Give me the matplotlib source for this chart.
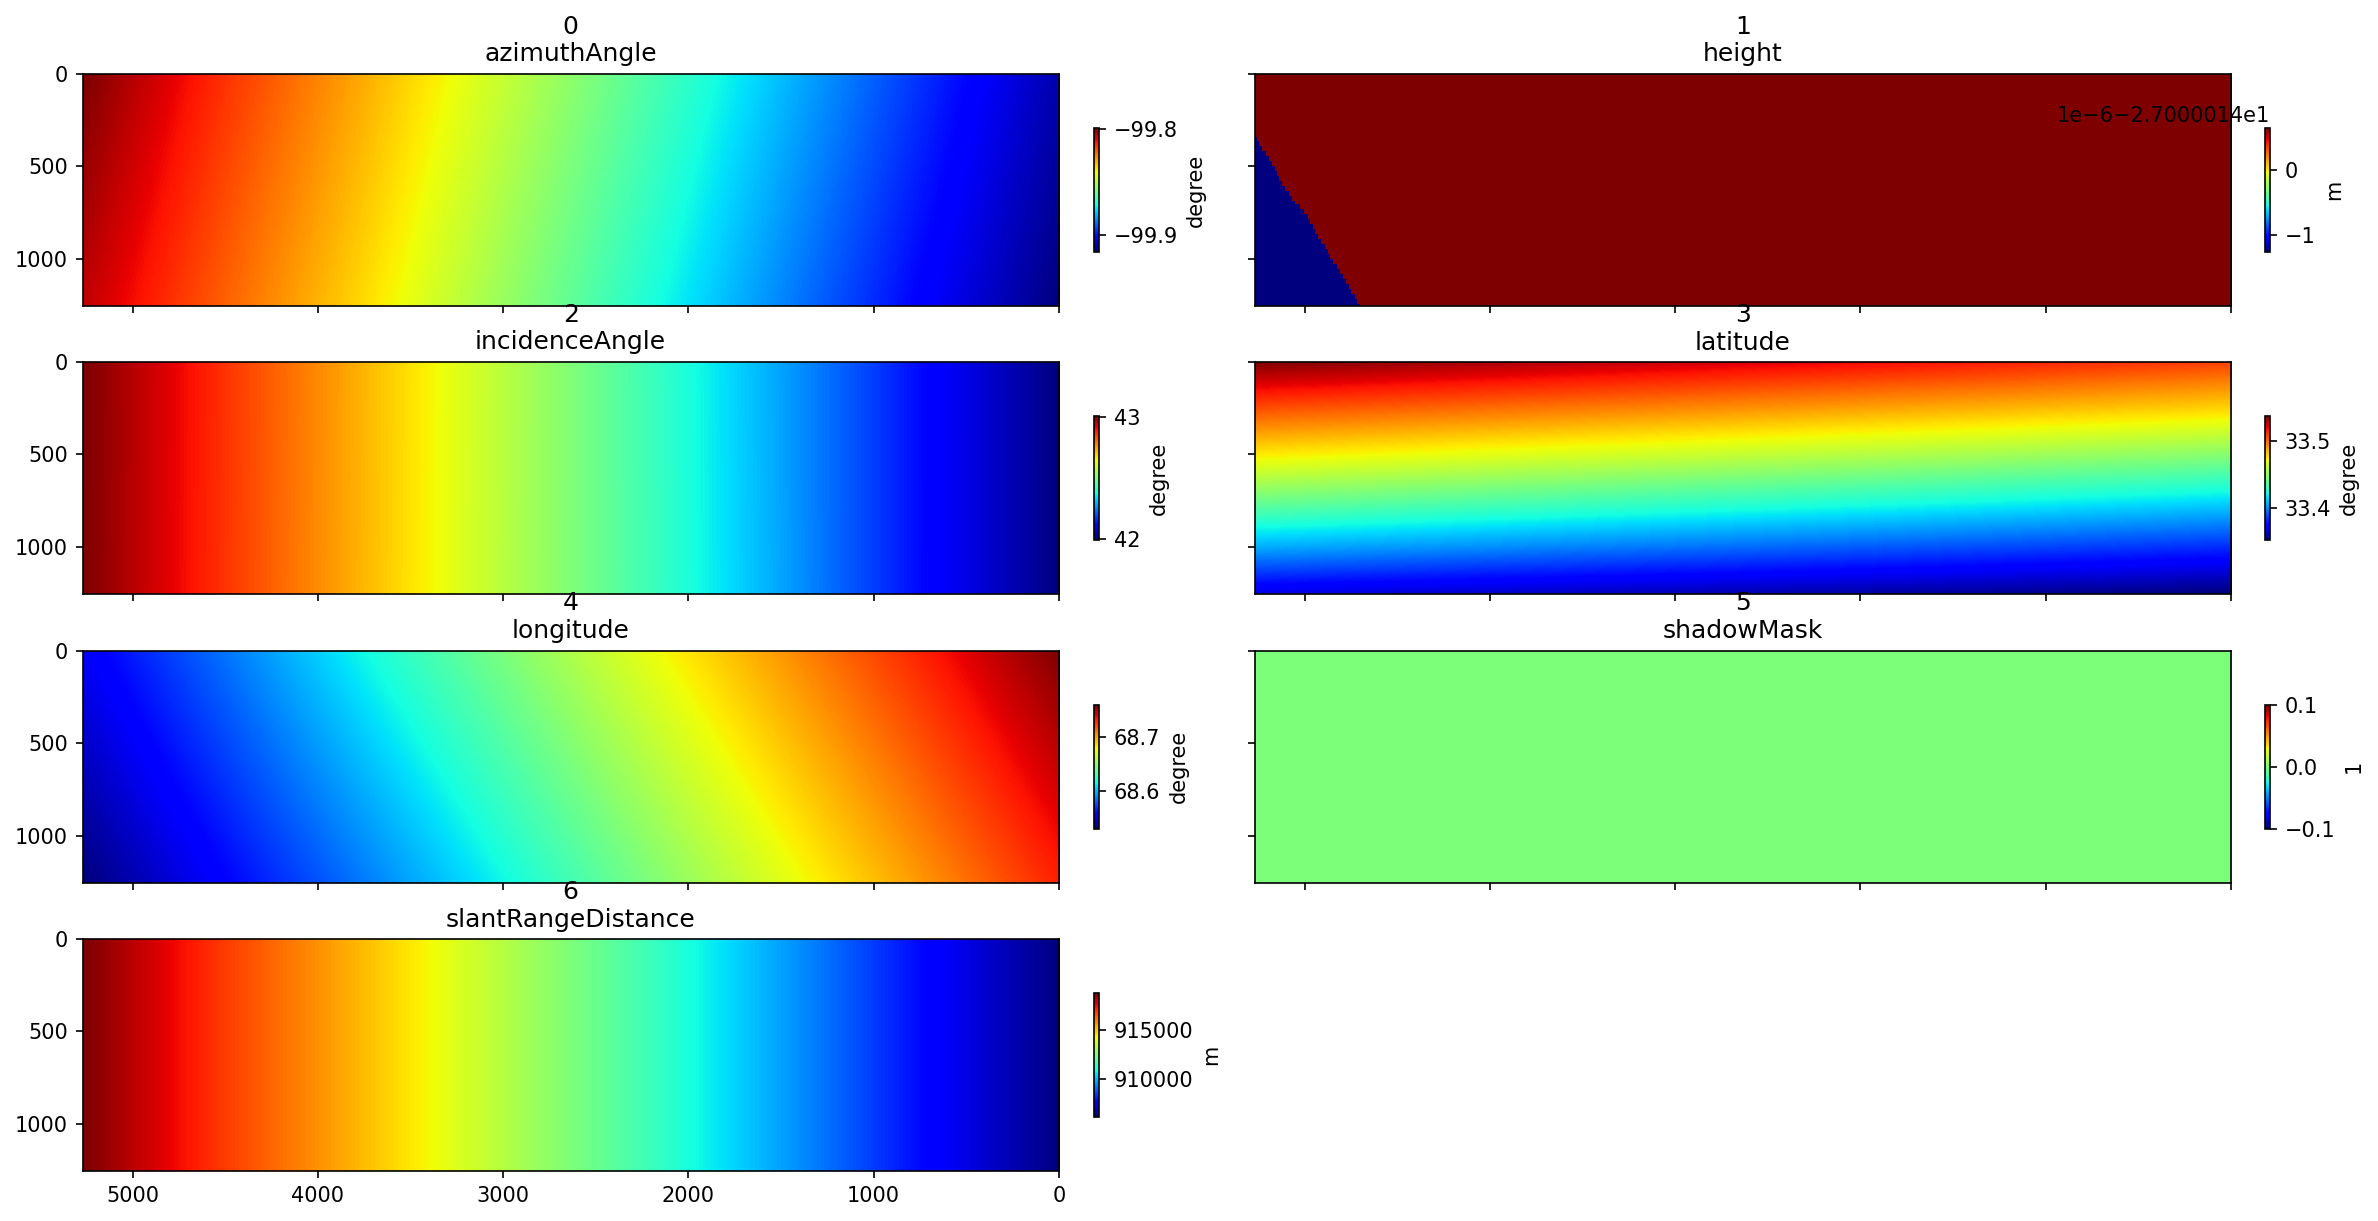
import numpy as np
import matplotlib
matplotlib.use("Agg")
import matplotlib.pyplot as plt

# values, columns run left to right on the reversed x axis
slant_columns = [5250, 4500, 3750, 3000, 2250, 1500, 750, 0]
two_rows = [0, 1255]

azimuth_angle = [
    [-99.799, -99.8156, -99.8309, -99.8469, -99.8632, -99.8794, -99.8955, -99.9113],
    [-99.806, -99.8217, -99.8369, -99.8534, -99.8699, -99.8859, -99.9018, -99.916],
]
incidence_angle = [
    [43.005, 42.860, 42.719, 42.576, 42.431, 42.284, 42.131, 41.995],
    [43.003, 42.858, 42.717, 42.574, 42.433, 42.286, 42.130, 41.996],
]
longitude = [
    [68.5565, 68.5863, 68.6165, 68.6454, 68.6738, 68.7020, 68.7302, 68.7588],
    [68.5315, 68.5597, 68.5874, 68.6156, 68.6440, 68.6727, 68.7015, 68.7304],
]
slant_range = [
    [918733, 916798, 915089, 913330, 911583, 909748, 907838, 906167],
    [918733, 916798, 915089, 913330, 911583, 909748, 907838, 906167],
]

lat_columns = [5250, 0]
lat_rows = [0, 250, 500, 750, 1000, 1250]
latitude = [
    [33.5368, 33.5074],
    [33.5052, 33.4787],
    [33.4746, 33.4476],
    [33.4419, 33.4158],
    [33.4075, 33.3838],
    [33.3695, 33.3529],
]

# height only has two float32 levels, split by an edge near the lower left corner
height_high = -27.00001335
height_low = -27.00001526
edge_rows = [340, 362, 389, 416, 443, 470, 497, 524, 551, 578, 605, 632, 659, 687, 705, 732, 759, 786,
             813, 840, 867, 894, 921, 948, 975, 1002, 1030, 1057, 1084, 1111, 1138, 1165, 1192, 1219, 1246]
edge_widths = [10, 22, 40, 60, 77, 92, 106, 118, 131, 145, 163, 181, 199, 214, 244, 262, 284, 298,
               313, 325, 340, 358, 376, 394, 406, 419, 442, 457, 473, 491, 505, 520, 538, 550, 568]

shadow_mask = [[0, 0], [0, 0]]

x_ticks = [5000, 4000, 3000, 2000, 1000, 0]
y_ticks = [0, 500, 1000]
x_left = 5270
y_bottom = 1255

W, H = 2378, 1221
COL_X = [(82.5, 1058.8), (1254.8, 2230.8)]
ROW_Y = [(74, 306), (362, 594), (650.8, 882.8), (939, 1171)]
CBAR_X = [1094, 2265]


def px_rect(x0, x1, y0, y1):
    return [x0 / W, 1 - y1 / H, (x1 - x0) / W, (y1 - y0) / H]


def add_panel(fig, idx, title, unit, **image_kw):
    """Axes, image and narrow colorbar for one band."""
    col = idx % 2
    row = idx // 2
    x0, x1 = COL_X[col]
    y0, y1 = ROW_Y[row]
    ax = fig.add_axes(px_rect(x0, x1, y0, y1))
    im = ax.imshow(image_kw.pop("data"), cmap="jet", aspect="auto", **image_kw)
    ax.set_xlim(x_left, 0)
    ax.set_ylim(y_bottom, 0)
    ax.set_xticks(x_ticks)
    ax.set_yticks(y_ticks)
    ax.tick_params(labelbottom=row == 3, labelleft=col == 0)
    ax.set_title(f"{idx}\n{title}", fontsize=12)

    mid = (y0 + y1) / 2
    cax = fig.add_axes(px_rect(CBAR_X[col], CBAR_X[col] + 5, mid - 62, mid + 62))
    cbar = fig.colorbar(im, cax=cax)
    cbar.set_label(unit)
    return ax


def node_extent(columns, rows):
    """Extent so that the array cells are centred on the reading positions."""
    dx = (columns[0] - columns[-1]) / (len(columns) - 1)
    dy = (rows[-1] - rows[0]) / (len(rows) - 1)
    return [columns[0] + dx / 2, columns[-1] - dx / 2, rows[-1] + dy / 2, rows[0] - dy / 2]


def smooth(values, columns, rows):
    return dict(data=np.array(values, dtype=float), extent=node_extent(columns, rows),
                interpolation="bilinear", interpolation_stage="data")


def height_raster():
    row_pos = (np.arange(232) + 0.5) * y_bottom / 232
    col_pos = (np.arange(976) + 0.5) * x_left / 976
    widths = np.array([0] + edge_widths)[np.searchsorted(edge_rows, row_pos, side="right")]
    raster = np.full((232, 976), height_high)
    raster[col_pos[None, :] < widths[:, None]] = height_low
    return raster


def main():
    fig = plt.figure(figsize=(W / 150, H / 150), dpi=150)

    add_panel(fig, 0, "azimuthAngle", "degree", **smooth(azimuth_angle, slant_columns, two_rows))
    add_panel(fig, 1, "height", "m", data=height_raster(), extent=[x_left, 0, y_bottom, 0],
              interpolation="nearest")
    add_panel(fig, 2, "incidenceAngle", "degree", **smooth(incidence_angle, slant_columns, two_rows))
    add_panel(fig, 3, "latitude", "degree", **smooth(latitude, lat_columns, lat_rows))
    add_panel(fig, 4, "longitude", "degree", **smooth(longitude, slant_columns, two_rows))
    add_panel(fig, 5, "shadowMask", "1", data=np.array(shadow_mask, dtype=float),
              extent=[x_left, 0, y_bottom, 0], vmin=-0.1, vmax=0.1)
    add_panel(fig, 6, "slantRangeDistance", "m", **smooth(slant_range, slant_columns, two_rows))

    fig.savefig("out.png", dpi=150)


if __name__ == "__main__":
    main()
